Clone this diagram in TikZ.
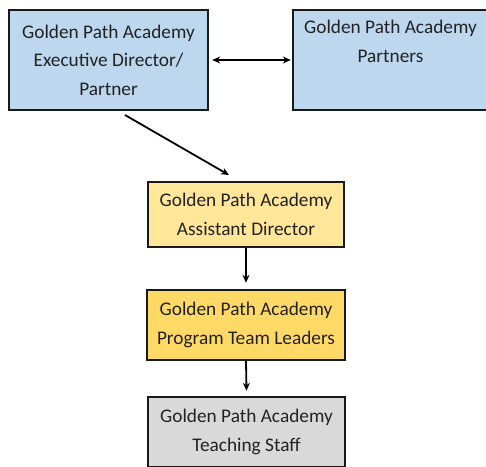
\documentclass[tikz,border=0pt]{standalone}
\usepackage{fontspec}
\setmainfont{Carlito}
\usetikzlibrary{arrows.meta}
\definecolor{boxblue}{HTML}{BDD7EE}
\definecolor{boxgold}{HTML}{FFE699}
\definecolor{boxgolddark}{HTML}{FFD966}
\definecolor{boxgrey}{HTML}{D9D9D9}
\definecolor{txt}{HTML}{222222}
\begin{document}
\begin{tikzpicture}[x=1pt,y=-1pt,
  box/.style={draw=black!90, line width=2.4pt, align=center, inner sep=0pt,
    font=\fontsize{19.3}{28.5}\selectfont, text=txt},
  tip/.tip={Stealth[length=8pt,width=7pt]},
  conn/.style={line width=1.8pt, -tip}]
\useasboundingbox (0,0) rectangle (486,466);
\node[box, fill=boxblue, minimum width=199pt, minimum height=100pt] (exec) at (108.5,60)
  {Golden Path Academy\\Executive Director/\\Partner};
\node[box, fill=boxblue, minimum width=195pt, minimum height=100pt] (partners) at (390.5,60)
  {Golden Path Academy\\Partners\\\strut};
\node[box, fill=boxgold, minimum width=196pt, minimum height=65pt] (asst) at (246,214.5)
  {Golden Path Academy\\Assistant Director};
\node[box, fill=boxgolddark, minimum width=198pt, minimum height=70pt] (lead) at (246,325)
  {Golden Path Academy\\Program Team Leaders};
\node[box, fill=boxgrey, minimum width=197pt, minimum height=70pt] (staff) at (246.5,432)
  {Golden Path Academy\\Teaching Staff};
\coordinate (dstart) at (125,115);
\coordinate (dend) at (229,175);
\draw[conn, tip-tip] ([xshift=3pt]exec.east) -- ([xshift=-1pt]partners.west);
\draw[conn] (dstart) -- (dend);
\draw[conn] (asst.south) -- ([yshift=6pt]lead.north);
\draw[conn] (lead.south) -- ([yshift=5pt]staff.north);
\end{tikzpicture}
\end{document}
